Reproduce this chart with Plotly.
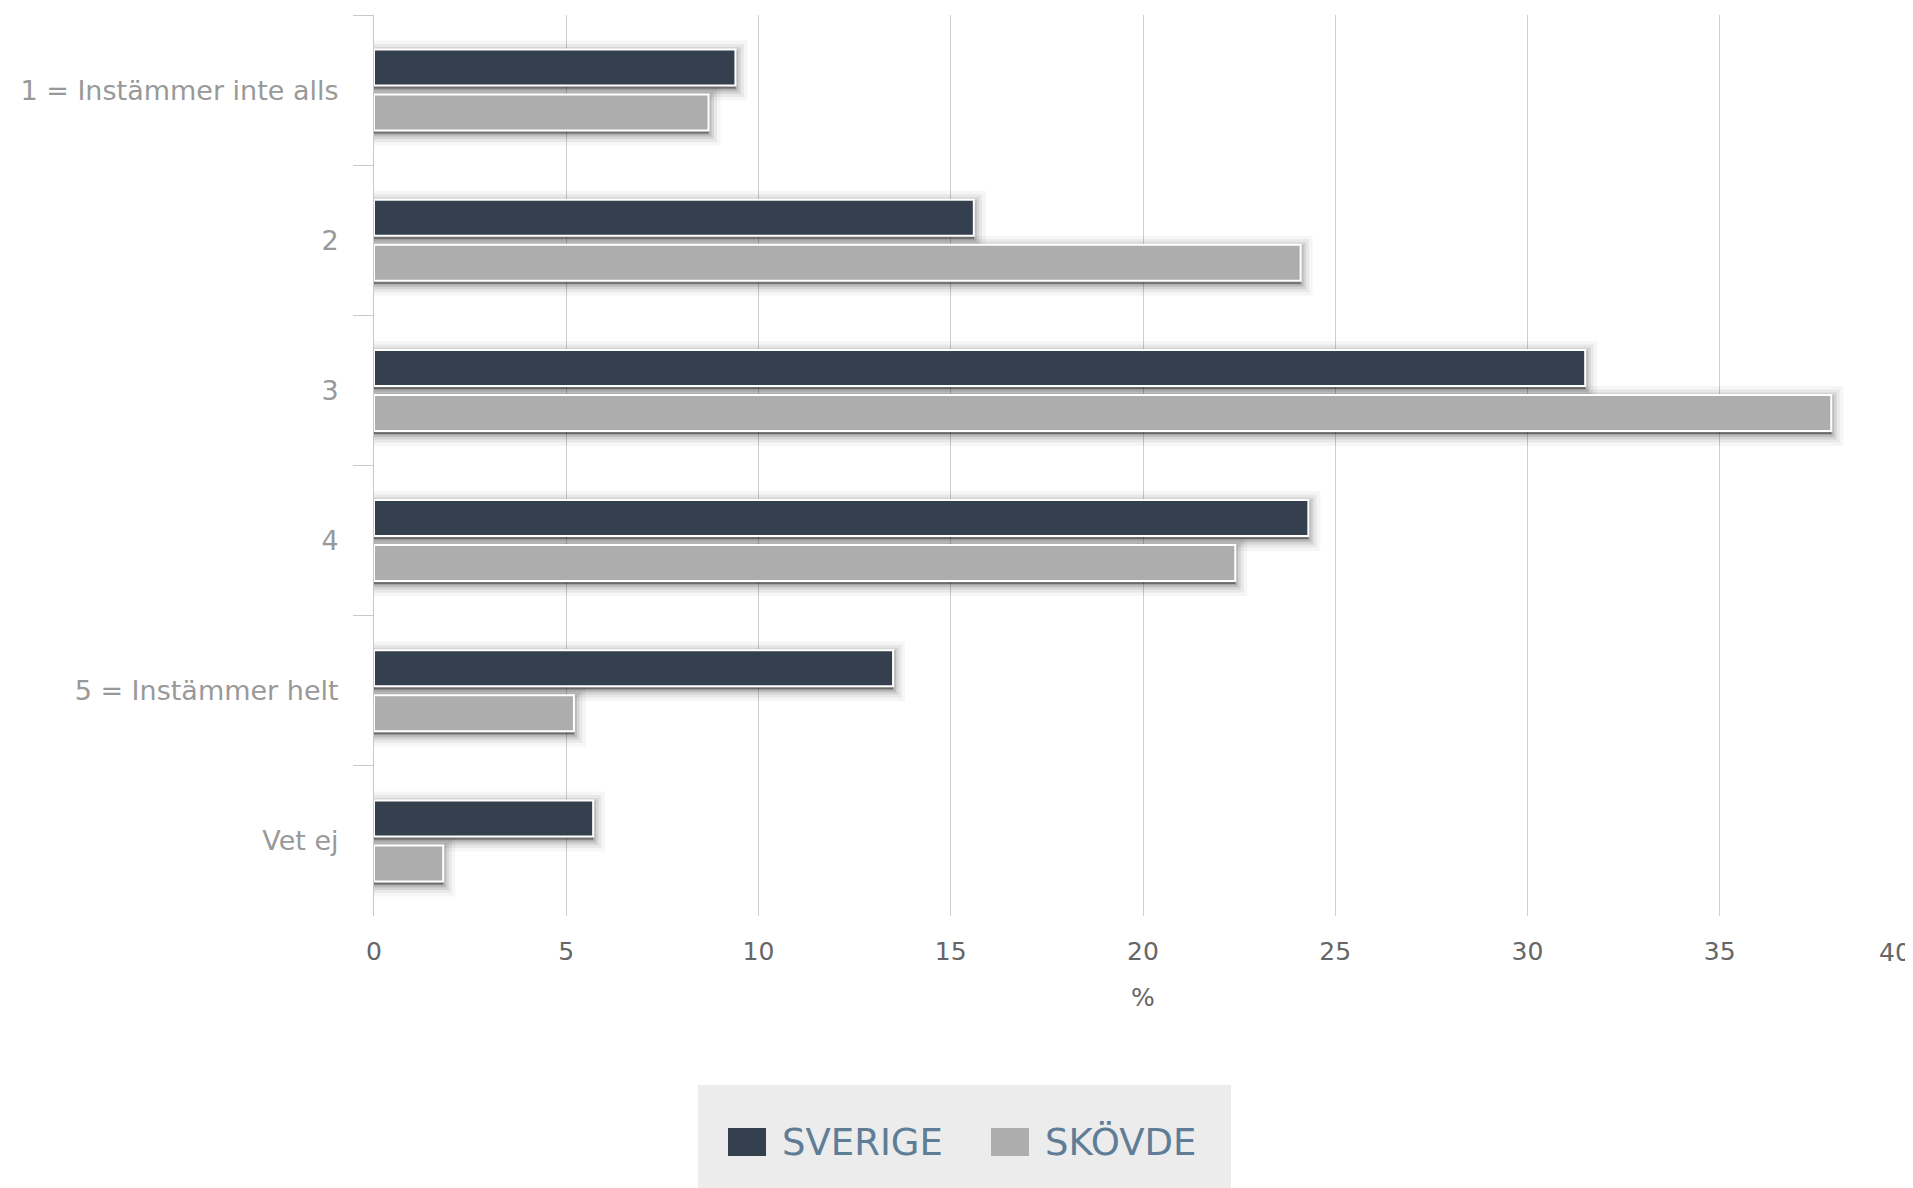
import plotly.graph_objects as go

categories = ["1 = Instämmer inte alls", "2", "3", "4", "5 = Instämmer helt", "Vet ej"]
sverige = [9.4, 15.6, 31.5, 24.3, 13.5, 5.7]
skovde = [8.7, 24.1, 37.9, 22.4, 5.2, 1.8]
series_names = ["SVERIGE", "SKÖVDE"]
series_colors = ["#34404d", "#adadad"]
x_ticks = [0, 5, 10, 15, 20, 25, 30, 35, 40]

# page body has an 8px default margin; compensate so screen coords match
OFF = 8
W, H = 1913 - OFF, 1188 - OFF
ML, MR, MT, MB = 374 - OFF, 1, 15 - OFF, 272
PW = W - ML - MR
PH = H - MT - MB
BAND = PH / len(categories)   # px per category

def px(x):
    return (x - OFF - ML) / PW

def py(y):
    return (H - MB - (y - OFF)) / PH

bar_w = 36 / BAND
slot = 45 / BAND
offsets = [-slot / 2 - bar_w / 2, slot / 2 - bar_w / 2]

fig = go.Figure()
# soft drop shadows behind bars
shadow_layers = [(24, 0.035), (17, 0.055), (11, 0.08), (6, 0.11), (2, 0.13)]
for vals, off in zip([sverige, skovde], offsets):
    for lw, a in shadow_layers:
        fig.add_trace(go.Bar(
            y=categories, x=vals, orientation="h",
            offset=off + 3 / BAND, width=bar_w,
            marker=dict(color=f"rgba(0,0,0,{a})", line=dict(color=f"rgba(0,0,0,{a})", width=lw)),
            showlegend=False, hoverinfo="skip",
        ))
for name, vals, col, off in zip(series_names, [sverige, skovde], series_colors, offsets):
    fig.add_trace(go.Bar(
        y=categories, x=vals, name=name, orientation="h",
        offset=off, width=bar_w,
        marker=dict(color=col, line=dict(color="#ffffff", width=2)),
        showlegend=False,
    ))

fig.update_layout(
    width=W, height=H,
    margin=dict(l=ML, r=MR, t=MT, b=MB, autoexpand=False),
    paper_bgcolor="#ffffff", plot_bgcolor="#ffffff",
    barmode="overlay",
    font=dict(family="DejaVu Sans", color="#666666"),
)
fig.update_yaxes(
    type="category", autorange="reversed", automargin=False,
    showline=True, linecolor="#c8c8c8", linewidth=1,
    ticks="outside", tickson="boundaries", ticklen=20, tickcolor="#c8c8c8",
    tickfont=dict(size=27, color="#999999"),
    ticklabelstandoff=29,
    showgrid=False,
)
# last tick label is justified inside the chart (drawn as annotation below)
tick_text = [str(v) for v in x_ticks[:-1]] + [""]
fig.update_xaxes(
    range=[0, 40], tickvals=x_ticks, ticktext=tick_text,
    automargin=False,
    showgrid=True, gridcolor="#cfcfcf", gridwidth=1,
    zeroline=False, showline=False, ticks="",
    tickfont=dict(size=25, color="#666666"),
    ticklabelstandoff=18, ticklabeloverflow="allow",
    title=dict(text="%", font=dict(size=25, color="#666666"), standoff=23),
)
fig.add_annotation(xref="x", yref="paper", x=x_ticks[-1], y=py(952),
                   text=str(x_ticks[-1]), showarrow=False, xanchor="right", yanchor="middle",
                   xshift=1, font=dict(family="DejaVu Sans", size=25, color="#666666"))

# legend drawn manually
leg_x0, leg_x1, leg_y0, leg_y1 = 698, 1231, 1085, 1188
fig.add_shape(type="rect", xref="paper", yref="paper",
              x0=px(leg_x0), x1=px(leg_x1), y0=py(leg_y1 + 10), y1=py(leg_y0),
              fillcolor="#ececec", line=dict(width=0), layer="below")
items = [(728, 780), (991, 1043)]
sym_y0, sym_y1 = 1128, 1156
for (sx, tx), name, col in zip(items, series_names, series_colors):
    fig.add_shape(type="rect", xref="paper", yref="paper",
                  x0=px(sx), x1=px(sx + 38), y0=py(sym_y1), y1=py(sym_y0),
                  fillcolor=col, line=dict(width=0))
    fig.add_annotation(xref="paper", yref="paper", x=px(tx), y=py((sym_y0 + sym_y1) / 2),
                       text=name, showarrow=False, xanchor="left", yanchor="middle",
                       font=dict(family="DejaVu Sans", size=37, color="#5f7d97"))

fig.write_html("out.html")
